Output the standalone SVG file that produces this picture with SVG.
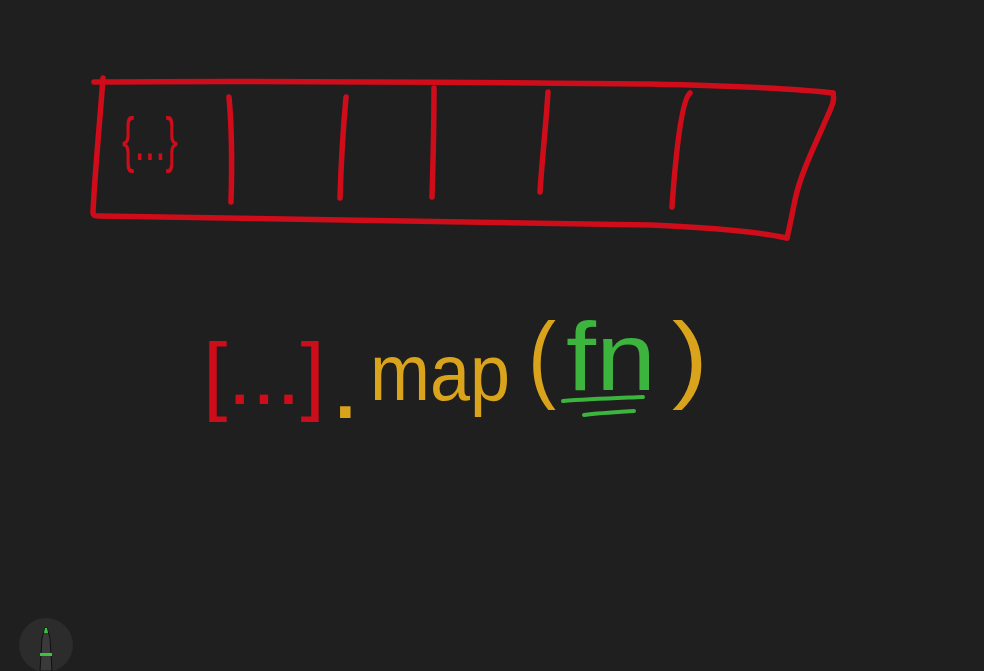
<svg xmlns="http://www.w3.org/2000/svg" width="984" height="671" viewBox="0 0 984 671">
  <style>
    .ink { fill: none; stroke-linecap: round; stroke-linejoin: round; }
    .red { stroke: #cf0d1a; }
    .thick { stroke-width: 5.5; }
    .hand { font-family: "Liberation Sans", "DejaVu Sans", sans-serif; font-weight: normal; }
  </style>
  <rect width="984" height="671" fill="#1f1f20"/>

  <g id="array-box">
    <path class="ink red thick" d="M94,82 C300,80 500,83 650,84 C740,86 800,89 833,93"/>
    <path class="ink red thick" d="M103,78 C100,120 95,170 93,212 C93,216 95,216 100,216 C300,218 500,222 650,225 C720,228 760,232 787,238"/>
    <path class="ink red thick" d="M833,93 C835,100 832,106 828,115 C815,145 800,175 795,200 C792,215 789,230 787,238"/>
  </g>

  <g id="cell-dividers">
    <path class="ink red thick" d="M229,97 C232,130 232,170 231,202"/>
    <path class="ink red thick" d="M346,97 C343,130 341,165 340,198"/>
    <path class="ink red thick" d="M434,88 C434,125 433,165 432,197"/>
    <path class="ink red thick" d="M548,92 C546,125 542,160 540,192"/>
    <path class="ink red thick" d="M690,93 C682,100 676,150 672,207"/>
  </g>

  <g id="cell-1-label">
    <text class="hand" x="122" y="160" font-size="62" fill="#cf0d1a" textLength="56" lengthAdjust="spacingAndGlyphs">{...}</text>
  </g>

  <g id="expression">
    <text class="hand" x="203" y="404" font-size="88" fill="#cf0d1a" textLength="122" lengthAdjust="spacingAndGlyphs">[...]</text>
    <text class="hand" x="330" y="418" font-size="110" fill="#d9a31b">.</text>
    <text class="hand" x="370" y="400" font-size="80" fill="#d9a31b" textLength="140" lengthAdjust="spacingAndGlyphs">map</text>
    <text class="hand" x="528" y="390" font-size="96" fill="#d9a31b" textLength="28" lengthAdjust="spacingAndGlyphs">(</text>
    <text class="hand" x="566" y="390" font-size="96" fill="#3cb43e" textLength="90" lengthAdjust="spacingAndGlyphs">fn</text>
    <text class="hand" x="672" y="390" font-size="96" fill="#d9a31b" textLength="36" lengthAdjust="spacingAndGlyphs">)</text>
    <path class="ink" stroke="#3cb43e" stroke-width="4" d="M563,401 C590,399 620,398 643,397"/>
    <path class="ink" stroke="#3cb43e" stroke-width="4" d="M584,415 C600,413 618,412 634,411"/>
  </g>

  <g id="pen-tool">
    <circle cx="46" cy="645" r="27" fill="#2c2c2d"/>
    <path d="M42,638 L45,628 L47,628 L50,638 L52,671 L40,671 Z" fill="#3a3a3b" stroke="#111" stroke-width="1"/>
    <path d="M44,633 L45,628 L47,628 L48,633 Z" fill="#3cc43e"/>
    <rect x="40" y="653" width="12" height="3" fill="#3cc43e"/>
  </g>

  <g id="connectors"></g>
</svg>
